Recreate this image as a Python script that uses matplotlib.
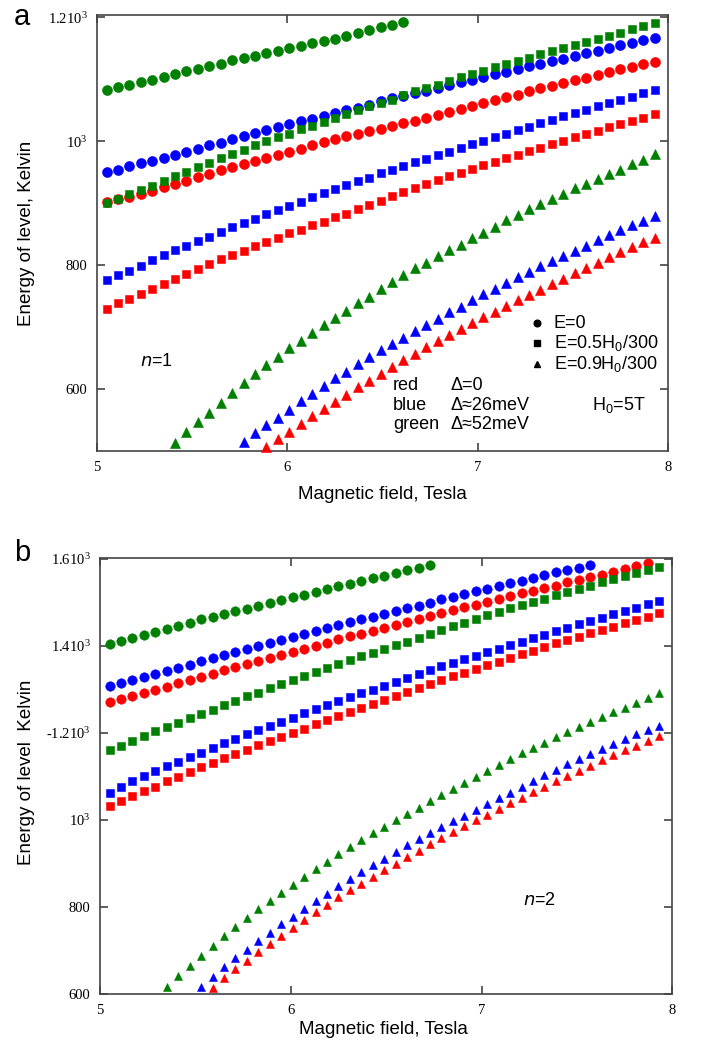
import numpy as np
import matplotlib.pyplot as plt

plt.rcParams['font.family'] = ['Liberation Sans', 'DejaVu Sans']

# magnetic field grid (Tesla)
field = [5.05, 5.11, 5.17, 5.23, 5.29, 5.35, 5.41, 5.47, 5.53, 5.59,
         5.65, 5.71, 5.77, 5.83, 5.89, 5.95, 6.01, 6.07, 6.13, 6.19,
         6.25, 6.31, 6.37, 6.43, 6.49, 6.55, 6.61, 6.67, 6.73, 6.79,
         6.85, 6.91, 6.97, 7.03, 7.09, 7.15, 7.21, 7.27, 7.33, 7.39,
         7.45, 7.51, 7.57, 7.63, 7.69, 7.75, 7.81, 7.87, 7.93]

# ---- panel a, n=1 (Kelvin) ----
a_red_circle = [902, 906, 910, 915, 920, 926, 931, 936, 942, 947,
                953, 958, 963, 968, 973, 978, 983, 988, 993, 998,
                1003, 1008, 1012, 1016, 1020, 1025, 1029, 1033, 1038, 1042,
                1047, 1052, 1056, 1061, 1066, 1071, 1075, 1080, 1085, 1089,
                1093, 1098, 1102, 1107, 1112, 1116, 1120, 1124, 1128]
a_blue_circle = [950, 954, 959, 964, 968, 973, 978, 983, 988, 993,
                 997, 1003, 1008, 1013, 1018, 1023, 1027, 1032, 1036, 1041,
                 1046, 1050, 1054, 1058, 1064, 1069, 1073, 1077, 1081, 1086,
                 1090, 1095, 1099, 1103, 1108, 1112, 1117, 1121, 1125, 1129,
                 1133, 1137, 1142, 1146, 1150, 1155, 1159, 1163, 1167]
a_green_circle = [1082, 1087, 1091, 1095, 1099, 1104, 1109, 1113, 1117, 1121,
                  1125, 1130, 1134, 1138, 1142, 1146, 1150, 1154, 1158, 1162,
                  1165, 1169, 1174, 1179, 1184, 1188, 1192]
a_red_square = [729, 738, 746, 754, 762, 770, 778, 786, 794, 802,
                809, 816, 823, 830, 837, 844, 851, 857, 864, 870,
                877, 883, 890, 897, 904, 911, 918, 924, 931, 937,
                943, 949, 955, 961, 967, 972, 978, 984, 989, 995,
                1000, 1006, 1012, 1017, 1022, 1028, 1033, 1038, 1044]
a_blue_square = [776, 784, 791, 799, 808, 816, 824, 831, 839, 846,
                 854, 861, 868, 875, 882, 889, 896, 902, 909, 916,
                 922, 929, 935, 941, 948, 954, 960, 966, 971, 977,
                 983, 989, 995, 1000, 1006, 1012, 1018, 1023, 1029, 1034,
                 1040, 1045, 1050, 1056, 1061, 1066, 1071, 1077, 1083]
a_green_square = [900, 906, 914, 921, 928, 936, 943, 950, 958, 965,
                  972, 979, 986, 993, 1000, 1006, 1012, 1019, 1025, 1031,
                  1038, 1044, 1050, 1056, 1061, 1067, 1074, 1080, 1086, 1091,
                  1097, 1103, 1108, 1113, 1119, 1124, 1129, 1134, 1140, 1145,
                  1150, 1155, 1160, 1165, 1170, 1175, 1180, 1185, 1190]
# triangles only enter the window at higher field; values end at 7.93 T
a_red_tri = [506, 519, 531, 544, 556, 567, 579, 590, 603, 613,
             625, 635, 647, 657, 667, 677, 687, 697, 707, 716,
             725, 734, 743, 752, 760, 769, 778, 787, 795, 804,
             813, 821, 829, 837, 844]
a_blue_tri = [514, 529, 542, 554, 566, 580, 592, 605, 617, 628,
              640, 652, 663, 672, 682, 693, 703, 713, 724, 733,
              744, 753, 761, 771, 781, 789, 798, 807, 815, 823,
              831, 840, 849, 857, 864, 871, 879]
a_green_tri = [513, 531, 547, 562, 578, 594, 610, 624, 638, 652,
               666, 678, 691, 703, 715, 726, 738, 749, 761, 772,
               784, 795, 804, 814, 824, 833, 843, 852, 862, 872,
               881, 890, 898, 907, 915, 924, 931, 939, 947, 954,
               963, 970, 979]

# ---- panel b, n=2 (Kelvin) ----
b_red_circle = [1272, 1279, 1286, 1292, 1299, 1306, 1314, 1321, 1329, 1336,
                1344, 1352, 1359, 1366, 1373, 1380, 1387, 1394, 1401, 1408,
                1415, 1422, 1428, 1434, 1441, 1448, 1455, 1461, 1468, 1475,
                1482, 1489, 1495, 1502, 1508, 1515, 1521, 1527, 1533, 1539,
                1546, 1552, 1558, 1564, 1570, 1577, 1584, 1591]
b_blue_circle = [1309, 1315, 1321, 1328, 1335, 1342, 1350, 1357, 1365, 1372,
                 1379, 1387, 1394, 1400, 1407, 1414, 1421, 1427, 1434, 1441,
                 1448, 1455, 1461, 1467, 1474, 1480, 1487, 1493, 1500, 1507,
                 1513, 1520, 1526, 1532, 1539, 1545, 1550, 1556, 1563, 1569,
                 1575, 1580, 1586]
b_green_circle = [1405, 1411, 1418, 1425, 1433, 1440, 1447, 1454, 1461, 1467,
                  1473, 1480, 1486, 1492, 1499, 1505, 1512, 1518, 1525, 1531,
                  1537, 1543, 1550, 1556, 1562, 1568, 1574, 1580, 1586]
b_red_square = [1033, 1044, 1055, 1066, 1077, 1089, 1100, 1111, 1122, 1132,
                1142, 1152, 1162, 1172, 1182, 1191, 1200, 1210, 1220, 1229,
                1238, 1248, 1258, 1267, 1276, 1285, 1294, 1303, 1312, 1321,
                1330, 1339, 1347, 1356, 1364, 1373, 1381, 1389, 1398, 1406,
                1414, 1421, 1429, 1437, 1444, 1452, 1460, 1467, 1475]
b_blue_square = [1063, 1077, 1090, 1102, 1113, 1124, 1134, 1145, 1155, 1166,
                 1176, 1187, 1197, 1206, 1216, 1226, 1235, 1245, 1255, 1264,
                 1274, 1283, 1291, 1300, 1309, 1318, 1327, 1336, 1345, 1353,
                 1362, 1370, 1378, 1386, 1394, 1402, 1410, 1418, 1426, 1434,
                 1442, 1450, 1458, 1465, 1473, 1480, 1488, 1496, 1503]
b_green_square = [1161, 1171, 1182, 1193, 1204, 1214, 1224, 1234, 1244, 1254,
                  1264, 1274, 1284, 1293, 1303, 1313, 1322, 1331, 1341, 1350,
                  1359, 1368, 1377, 1385, 1393, 1402, 1410, 1419, 1427, 1436,
                  1445, 1454, 1463, 1471, 1479, 1487, 1494, 1501, 1509, 1517,
                  1525, 1532, 1539, 1546, 1554, 1561, 1568, 1575, 1582]
b_red_tri = [613, 636, 657, 676, 696, 714, 733, 752, 771, 788,
             805, 822, 838, 854, 869, 884, 899, 915, 929, 944,
             959, 973, 986, 999, 1012, 1025, 1038, 1051, 1064, 1077,
             1089, 1101, 1113, 1125, 1137, 1149, 1160, 1171, 1182, 1193]
b_blue_tri = [615, 640, 662, 682, 702, 722, 741, 760, 778, 796,
              814, 831, 848, 864, 880, 896, 911, 927, 942, 956,
              969, 983, 997, 1010, 1024, 1037, 1050, 1063, 1077, 1090,
              1103, 1116, 1128, 1140, 1152, 1163, 1175, 1186, 1197, 1207,
              1217]
b_green_tri = [617, 642, 665, 687, 710, 733, 755, 775, 795, 814,
               833, 851, 869, 887, 904, 921, 937, 953, 969, 985,
               1000, 1014, 1028, 1043, 1057, 1071, 1085, 1099, 1113, 1127,
               1140, 1153, 1165, 1178, 1190, 1202, 1213, 1225, 1237, 1248,
               1258, 1269, 1280, 1291]

a_yticks = [600, 800, 1000, 1200]
a_ylabels = ['600', '800', r'$\mathregular{10^3}$', r'$\mathregular{1.210^3}$']
b_yticks = [600, 800, 1000, 1200, 1400, 1600]
b_ylabels = ['600', '800', r'$\mathregular{10^3}$', '-' + r'$\mathregular{1.210^3}$',
             r'$\mathregular{1.410^3}$', r'$\mathregular{1.610^3}$']
xticks = [5, 6, 7, 8]

COL = {"red": "#ff0000", "blue": "#0000ff", "green": "#008000"}


def draw(ax, vals, color, marker, ms, tail=False):
    # circles/squares start at the first field value, triangles run to the last one
    x = field[len(field) - len(vals):] if tail else field[:len(vals)]
    ax.plot(x, vals, ls="none", marker=marker, ms=ms, color=COL[color],
            mec=COL[color], mew=0.4, clip_on=False, zorder=3)


def style(ax, yticks, ylabels, ylim):
    ax.set_xlim(5, 8)
    ax.set_ylim(*ylim)
    ax.set_xticks(xticks)
    ax.set_xticklabels([str(t) for t in xticks], fontfamily='Liberation Serif', fontsize=10.5)
    ax.set_yticks(yticks)
    ax.set_yticklabels(ylabels, fontfamily='Liberation Serif', fontsize=10.5)
    ax.tick_params(direction='in', length=6, width=1.1, color='#333333',
                   top=True, right=True, pad=7)
    for s in ax.spines.values():
        s.set_color('#444444')
        s.set_linewidth(1.2)


fig = plt.figure(figsize=(7.02, 10.44), dpi=100)
axa = fig.add_axes([0.1382, 0.568, 0.8134, 0.4174])
axb = fig.add_axes([0.1425, 0.0479, 0.8152, 0.4179])

for c, v in [("red", a_red_circle), ("blue", a_blue_circle), ("green", a_green_circle)]:
    draw(axa, v, c, 'o', 7.2)
for c, v in [("red", a_red_square), ("blue", a_blue_square), ("green", a_green_square)]:
    draw(axa, v, c, 's', 6.0)
for c, v in [("red", a_red_tri), ("blue", a_blue_tri), ("green", a_green_tri)]:
    draw(axa, v, c, '^', 6.6, tail=True)

for c, v in [("red", b_red_circle), ("blue", b_blue_circle), ("green", b_green_circle)]:
    draw(axb, v, c, 'o', 6.8)
for c, v in [("red", b_red_square), ("blue", b_blue_square), ("green", b_green_square)]:
    draw(axb, v, c, 's', 5.6)
for c, v in [("red", b_red_tri), ("blue", b_blue_tri), ("green", b_green_tri)]:
    draw(axb, v, c, '^', 6.2, tail=True)

style(axa, a_yticks, a_ylabels, (500, 1203))
style(axb, b_yticks, b_ylabels, (600, 1603))

# labels
axa.set_xlabel("Magnetic field, Tesla", fontsize=13.5)
axa.xaxis.set_label_coords(0.50, -0.080)
axa.set_ylabel("Energy of level, Kelvin", fontsize=13.5)
axa.yaxis.set_label_coords(-0.108, 0.5)
axb.set_xlabel("Magnetic field, Tesla", fontsize=13.5)
axb.xaxis.set_label_coords(0.495, -0.062)
axb.set_ylabel("Energy of level  Kelvin", fontsize=13.5)
axb.yaxis.set_label_coords(-0.113, 0.507)

fig.text(0.031, 0.984, "a", fontsize=21, ha='center', va='center')
fig.text(0.031, 0.470, "b", fontsize=21, ha='center', va='center')

# in-plot notes, panel a
for y, m, s, lab in [(706, 'o', 4.8, "E=0"),
                     (674, 's', 4.4, r"E=0.5H$_\mathregular{0}$/300"),
                     (641, '^', 5.0, r"E=0.9H$_\mathregular{0}$/300")]:
    axa.plot([7.31], [y], ls="none", marker=m, ms=s, color='black')
    axa.text(7.40, y, lab, fontsize=13, va='center', ha='left')

for y, name, d in [(606, "red", "Δ=0"), (574, "blue", "Δ≈26meV"), (542, "green", "Δ≈52meV")]:
    axa.text(6.555, y, name, fontsize=13, va='center', ha='left')
    axa.text(6.855, y, d, fontsize=13, va='center', ha='left')
axa.text(7.60, 574, r"H$_\mathregular{0}$=5T", fontsize=13, va='center', ha='left')
axa.text(5.226, 644, r"$\mathit{n}$=1", fontsize=13, va='center', ha='left')

axb.text(7.217, 816, r"$\mathit{n}$=2", fontsize=13, va='center', ha='left')

fig.savefig("out.png", dpi=100)
